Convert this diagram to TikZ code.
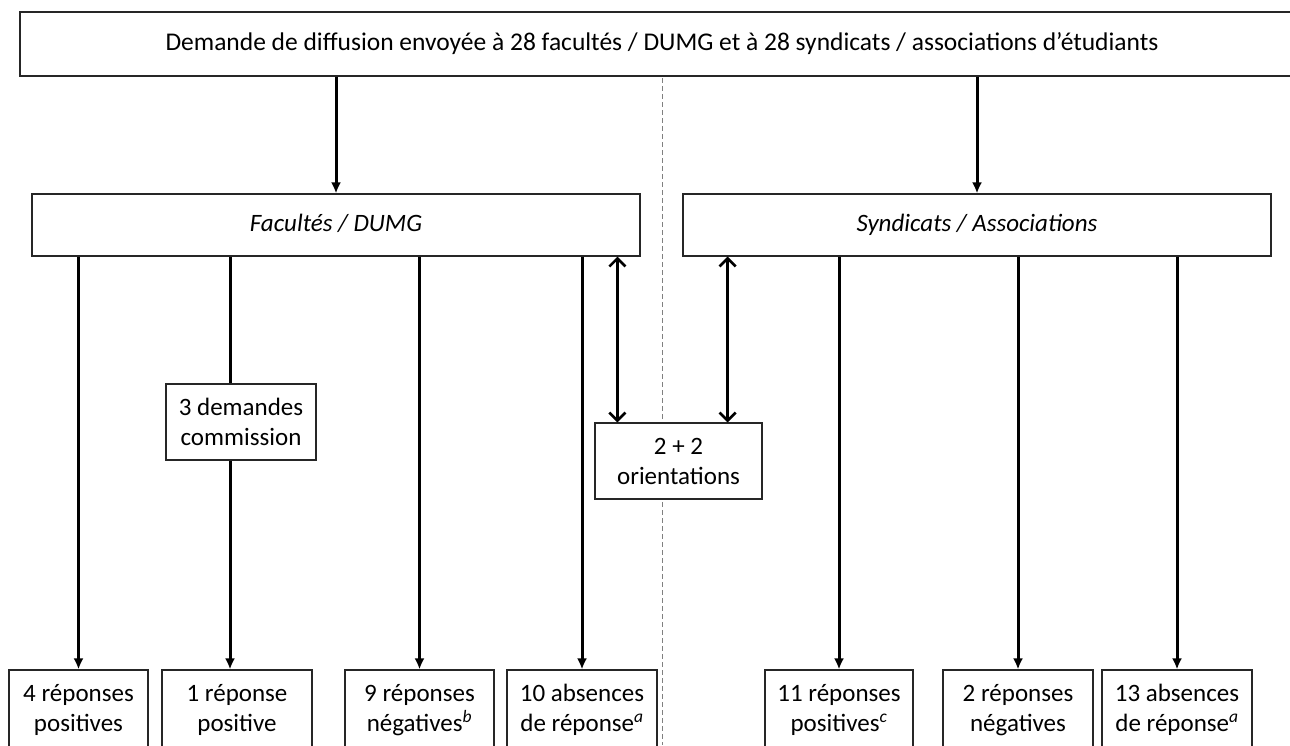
\documentclass[tikz,border=0pt]{standalone}
\usepackage{fontspec}
\setmainfont{Carlito}
\usetikzlibrary{arrows.meta}
\begin{document}
\begin{tikzpicture}[x=1pt,y=-1pt,
  box/.style={draw=black!85, line width=1.2pt, fill=white, align=center, inner sep=0pt,
    font=\fontsize{25}{30}\selectfont},
  arr/.style={line width=3pt, -{Latex[length=11pt,width=10pt]}},
  dbl/.style={line width=3pt, {Straight Barb[length=8pt,width=16pt,line width=2.6pt]}-{Straight Barb[length=8pt,width=16pt,line width=2.6pt]}},
  sep/.style={gray, line width=0.9pt, dash pattern=on 5pt off 3pt}]
\useasboundingbox (0,0) rectangle (1290,745);
\clip (0,0) rectangle (1290,745);
\fill[white] (0,0) rectangle (1290,745);
% separator
\coordinate (d1) at (662,78);
\coordinate (d2) at (662,745);
\draw[sep] (d1) -- (d2);
% boxes
\node[box, minimum width=1284pt, minimum height=64pt] (top) at (662,44)
  {\fontsize{25.5}{30}\selectfont Demande de diffusion envoyée à 28 facultés / DUMG et à 28 syndicats / associations d’étudiants};
\node[box, minimum width=608pt, minimum height=62pt] (fac) at (336,225) {\itshape\strut Facultés / DUMG};
\node[box, minimum width=588pt, minimum height=62pt] (syn) at (977,225) {\itshape\strut Syndicats / Associations};
\node[box, minimum width=150pt, minimum height=76pt] (com) at (241,422) {3 demandes\\commission};
\node[box, minimum width=167pt, minimum height=76pt] (ori) at (678.5,461) {2 + 2\\orientations};
\tikzset{bot/.style={box, minimum height=80pt}}
\node[bot, minimum width=139pt] (b1) at (78.5,710) {4 réponses\\positives};
\node[bot, minimum width=150pt] (b2) at (237,710) {1 réponse\\positive};
\node[bot, minimum width=149pt] (b3) at (419.5,710) {9 réponses\\négatives\textsuperscript{\itshape b}};
\node[bot, minimum width=150pt] (b4) at (582,710) {10 absences\\de réponse\textsuperscript{\itshape a}};
\node[bot, minimum width=148pt] (b5) at (839,710) {11 réponses\\positives\textsuperscript{\itshape c}};
\node[bot, minimum width=150pt] (b6) at (1018,710) {2 réponses\\négatives};
\node[bot, minimum width=150pt] (b7) at (1177,710) {13 absences\\de réponse\textsuperscript{\itshape a}};
% top arrows
\draw[arr] (top.south -| fac.north) -- (fac.north);
\draw[arr] (top.south -| syn.north) -- (syn.north);
% facultes arrows
\draw[arr] (fac.south -| b1.north) -- (b1.north);
\draw[line width=3pt] (fac.south -| com.north) ++(-11pt,0) -- ([xshift=-11pt]com.north);
\draw[arr] ([xshift=-11pt]com.south) -- ([xshift=-7pt]b2.north);
\draw[arr] (fac.south -| b3.north) -- (b3.north);
\draw[arr] (fac.south -| b4.north) -- (b4.north);
% syndicats arrows
\draw[arr] (syn.south -| b5.north) -- (b5.north);
\draw[arr] (syn.south -| b6.north) -- (b6.north);
\draw[arr] (syn.south -| b7.north) -- (b7.north);
% double arrows
\draw[dbl] ([xshift=23pt]ori.north west |- fac.south) -- ([xshift=23pt]ori.north west);
\draw[dbl] ([xshift=-35pt]ori.north east |- syn.south) -- ([xshift=-35pt]ori.north east);
\end{tikzpicture}
\end{document}
